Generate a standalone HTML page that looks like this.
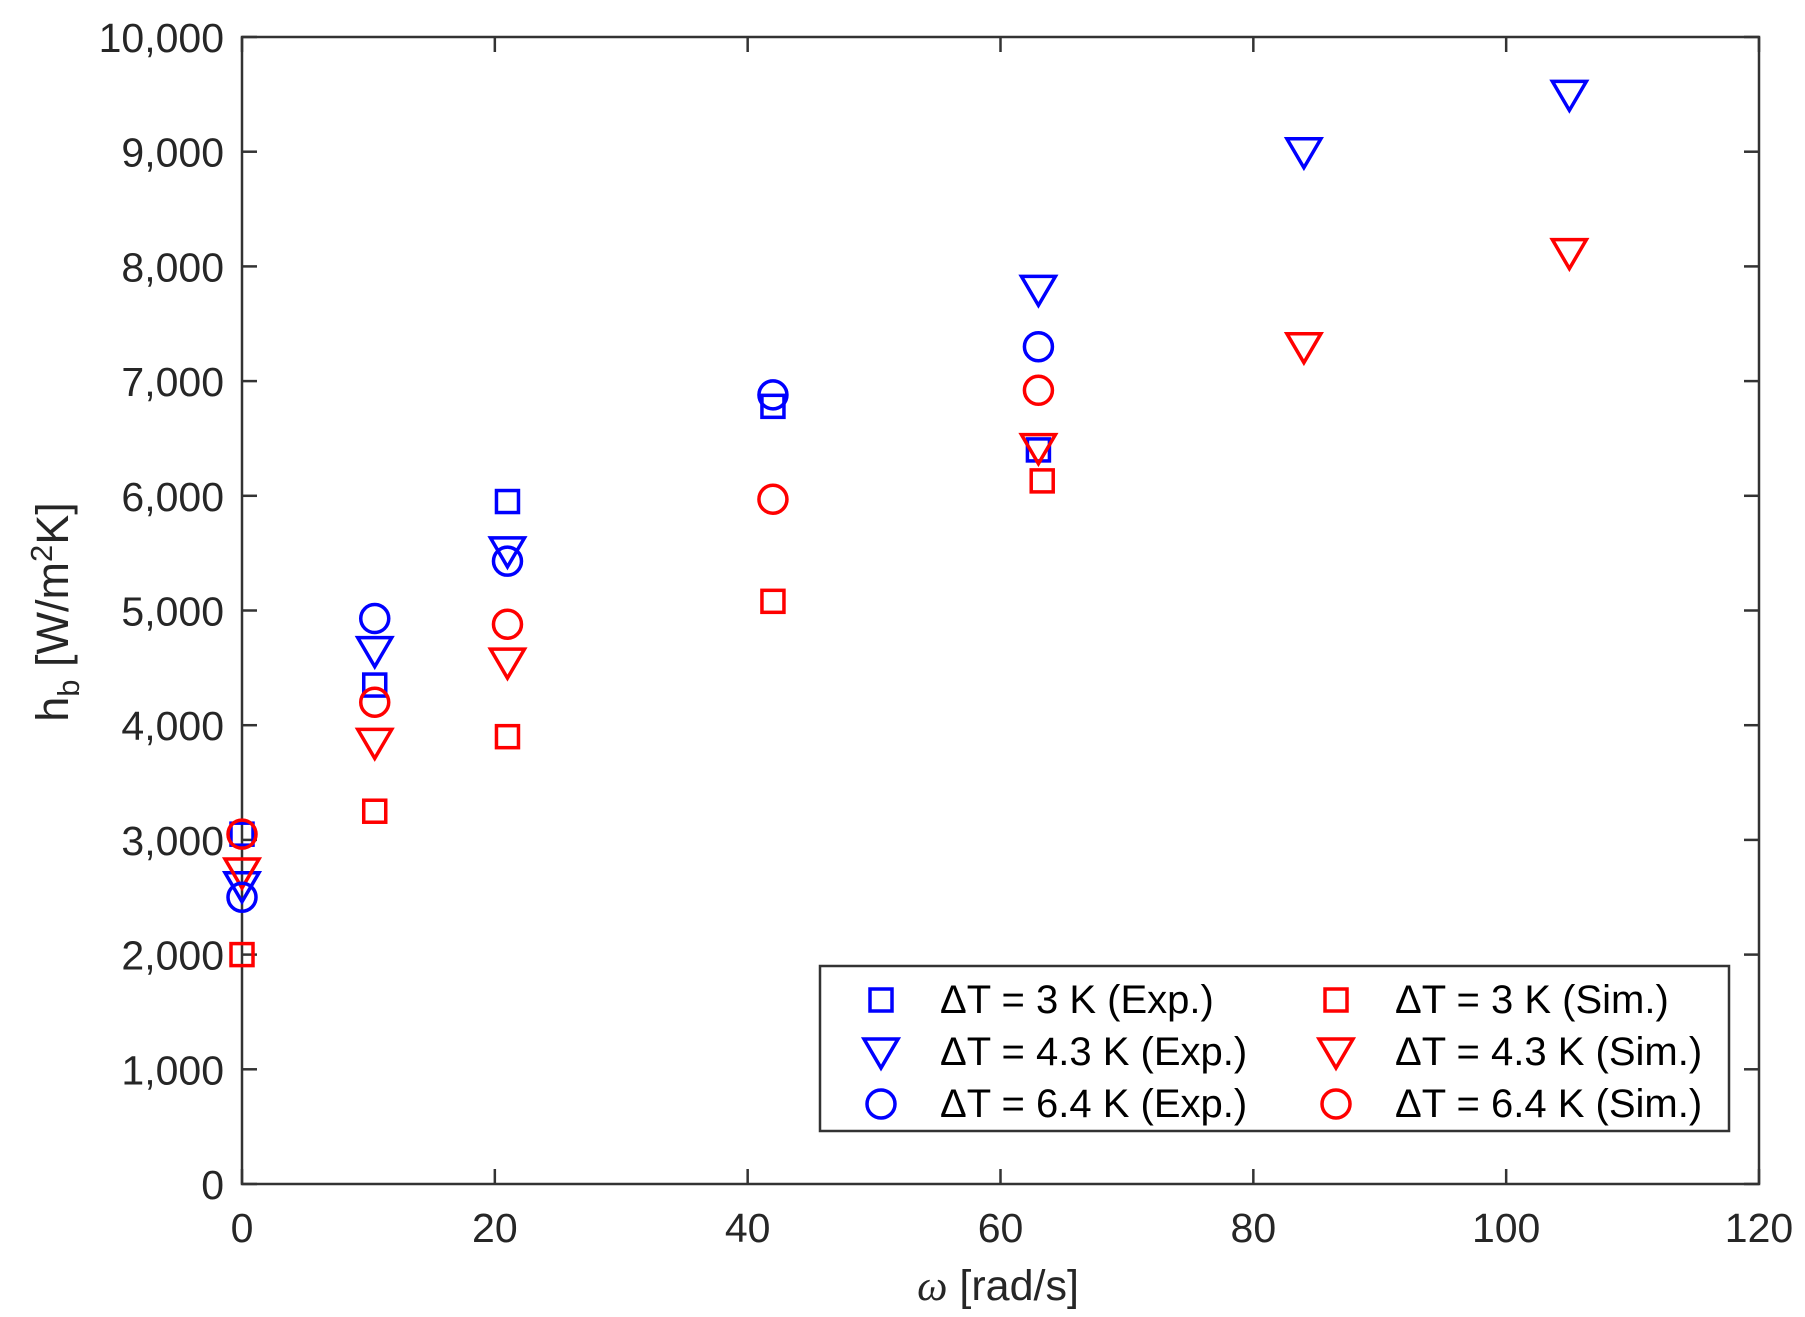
<!DOCTYPE html>
<html><head><meta charset="utf-8"><style>
html,body{margin:0;padding:0;background:#fff;}
svg{display:block;font-family:"Liberation Sans",Arial,sans-serif;}
</style></head><body>
<svg width="1805" height="1317" viewBox="0 0 1805 1317" xmlns="http://www.w3.org/2000/svg">
<defs>
<g id="sq"><rect x="-11" y="-11" width="22" height="22" fill="none" stroke-width="3.5"/></g>
<g id="tri"><polygon points="-17,-13 17,-13 0,16" fill="none" stroke-width="3.5" stroke-linejoin="miter"/></g>
<g id="cir"><circle r="14" fill="none" stroke-width="3.5"/></g>
</defs>
<rect x="242" y="37" width="1517" height="1147" fill="#fff" stroke="#333" stroke-width="2.5"/>
<g stroke="#333" stroke-width="2.5" id="ticks"></g>
<g font-size="41" fill="#262626" id="labels"></g>
<text x="998" y="1300" font-size="43" fill="#262626" text-anchor="middle"><tspan font-family="Liberation Serif" font-style="italic">ω</tspan> [rad/s]</text>
<text transform="translate(68,612) rotate(-90)" font-size="45" fill="#262626" text-anchor="middle">h<tspan font-size="31" dy="11">b</tspan><tspan dy="-11"> [W/m</tspan><tspan font-size="31" dy="-16">2</tspan><tspan dy="16">K]</tspan></text>
<g id="pts"></g>
<rect x="820" y="966" width="909" height="165" fill="#fff" stroke="#333" stroke-width="2.5"/>
<g font-size="40" fill="#000">
<use href="#sq" x="881" y="1000" stroke="#0000ff"/>
<use href="#tri" x="881" y="1052" stroke="#0000ff"/>
<use href="#cir" x="881" y="1104" stroke="#0000ff"/>
<text x="940" y="1013">ΔT = 3 K (Exp.)</text>
<text x="940" y="1065">ΔT = 4.3 K (Exp.)</text>
<text x="940" y="1117">ΔT = 6.4 K (Exp.)</text>
<use href="#sq" x="1336" y="1000" stroke="#ff0000"/>
<use href="#tri" x="1336" y="1052" stroke="#ff0000"/>
<use href="#cir" x="1336" y="1104" stroke="#ff0000"/>
<text x="1395" y="1013">ΔT = 3 K (Sim.)</text>
<text x="1395" y="1065">ΔT = 4.3 K (Sim.)</text>
<text x="1395" y="1117">ΔT = 6.4 K (Sim.)</text>
</g>
</svg>
<script>
const NS="http://www.w3.org/2000/svg";
const X=v=>242+v*1517/120, Y=v=>1184-v*0.1147;
const tk=document.getElementById('ticks'), lb=document.getElementById('labels'), pts=document.getElementById('pts');
function el(p,t,a,txt){const e=document.createElementNS(NS,t);for(const k in a)e.setAttribute(k,a[k]);if(txt!=null)e.textContent=txt;p.appendChild(e);return e;}
for(let i=0;i<=6;i++){const x=X(i*20);
 el(tk,'line',{x1:x,y1:1184,x2:x,y2:1169});el(tk,'line',{x1:x,y1:37,x2:x,y2:52});
 el(lb,'text',{x:x,y:1242,'text-anchor':'middle'},String(i*20));}
for(let i=0;i<=10;i++){const y=Y(i*1000);
 el(tk,'line',{x1:242,y1:y,x2:257,y2:y});el(tk,'line',{x1:1759,y1:y,x2:1744,y2:y});
 el(lb,'text',{x:224,y:y+15,'text-anchor':'end'},(i*1000).toLocaleString('en-US'));}
const B="#0000ff",R="#ff0000";
const S=[
 ['sq',B,[[0,3050],[10.5,4350],[21,5950],[42,6780],[63,6400]]],
 ['sq',R,[[0,2000],[10.5,3250],[21,3900],[42,5080],[63.3,6130]]],
 ['tri',B,[[0,2600],[10.5,4650],[21,5520],[63,7800],[84,9000],[105,9500]]],
 ['tri',R,[[0,2720],[10.5,3850],[21,4550],[63,6420],[84,7300],[105,8120]]],
 ['cir',B,[[0,2500],[10.5,4930],[21,5430],[42,6880],[63,7300]]],
 ['cir',R,[[0,3050],[10.5,4200],[21,4880],[42,5970],[63,6920]]]];
for(const [m,c,d] of S)for(const [x,y] of d)el(pts,'use',{href:'#'+m,x:X(x),y:Y(y),stroke:c});
</script>
</body></html>
